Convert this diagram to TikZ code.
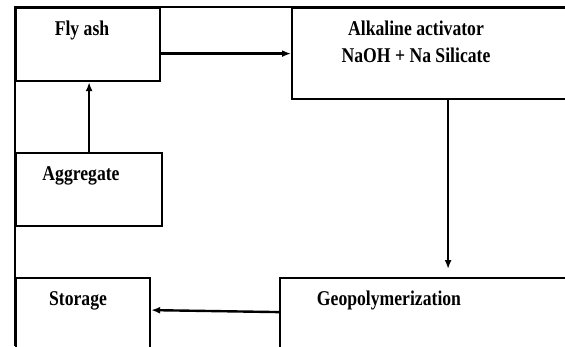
\documentclass[tikz,border=0pt]{standalone}
\usepackage{fontspec}
\setmainfont{Liberation Serif}[FakeStretch=0.84]
\usetikzlibrary{arrows.meta}
\tikzset{
  box/.style={draw, line width=2.2pt, rectangle, anchor=north west, inner sep=0pt},
  arr/.style={-{Latex[length=9pt,width=7pt]}, line width=2.4pt},
  lbl/.style={anchor=base, inner sep=0pt, font=\bfseries\fontsize{21}{27}\selectfont, align=center}
}

\begin{document}
\begin{tikzpicture}[x=1pt, y=-1pt]
    \useasboundingbox (0,0) rectangle (565,346);
    \clip (0,0) rectangle (565,346);
    % frame
    \draw[line width=2pt] (15,346) -- (15,7) -- (565,7);
    % boxes
    \node[box, minimum width=144pt, minimum height=73pt] (flyash) at (15,7) {};
    \node[box, minimum width=312pt, minimum height=91pt] (alkali) at (291,7) {};
    \node[box, minimum width=146pt, minimum height=73pt] (aggregate) at (15,152) {};
    \node[box, minimum width=134pt, minimum height=100pt] (storage) at (15,277) {};
    \node[box, minimum width=320pt, minimum height=100pt] (geopoly) at (279,277) {};
    % texts
    \node[lbl] (flyashtxt) at (82,35) {Fly ash};
    \node[lbl] (alkalitxt) at (416,62) {Alkaline activator\\NaOH + Na Silicate};
    \node[lbl] (aggregatetxt) at (81,180) {Aggregate};
    \node[lbl] (storagetxt) at (78,305) {Storage};
    \node[lbl] (geopolytxt) at (389,305) {Geopolymerization};
    % arrows
    \draw[arr] (alkali.west -| flyash.east) -- (alkali.west);
    \draw[arr] (aggregate.north) -- (flyash.south -| aggregate.north);
    \draw[arr, shorten >=8pt] (alkali.south) -- (geopoly.north -| alkali.south);
    \draw[arr] ([yshift=16pt]geopoly.west) -- ([yshift=18pt]storage.east);
\end{tikzpicture}
\end{document}
